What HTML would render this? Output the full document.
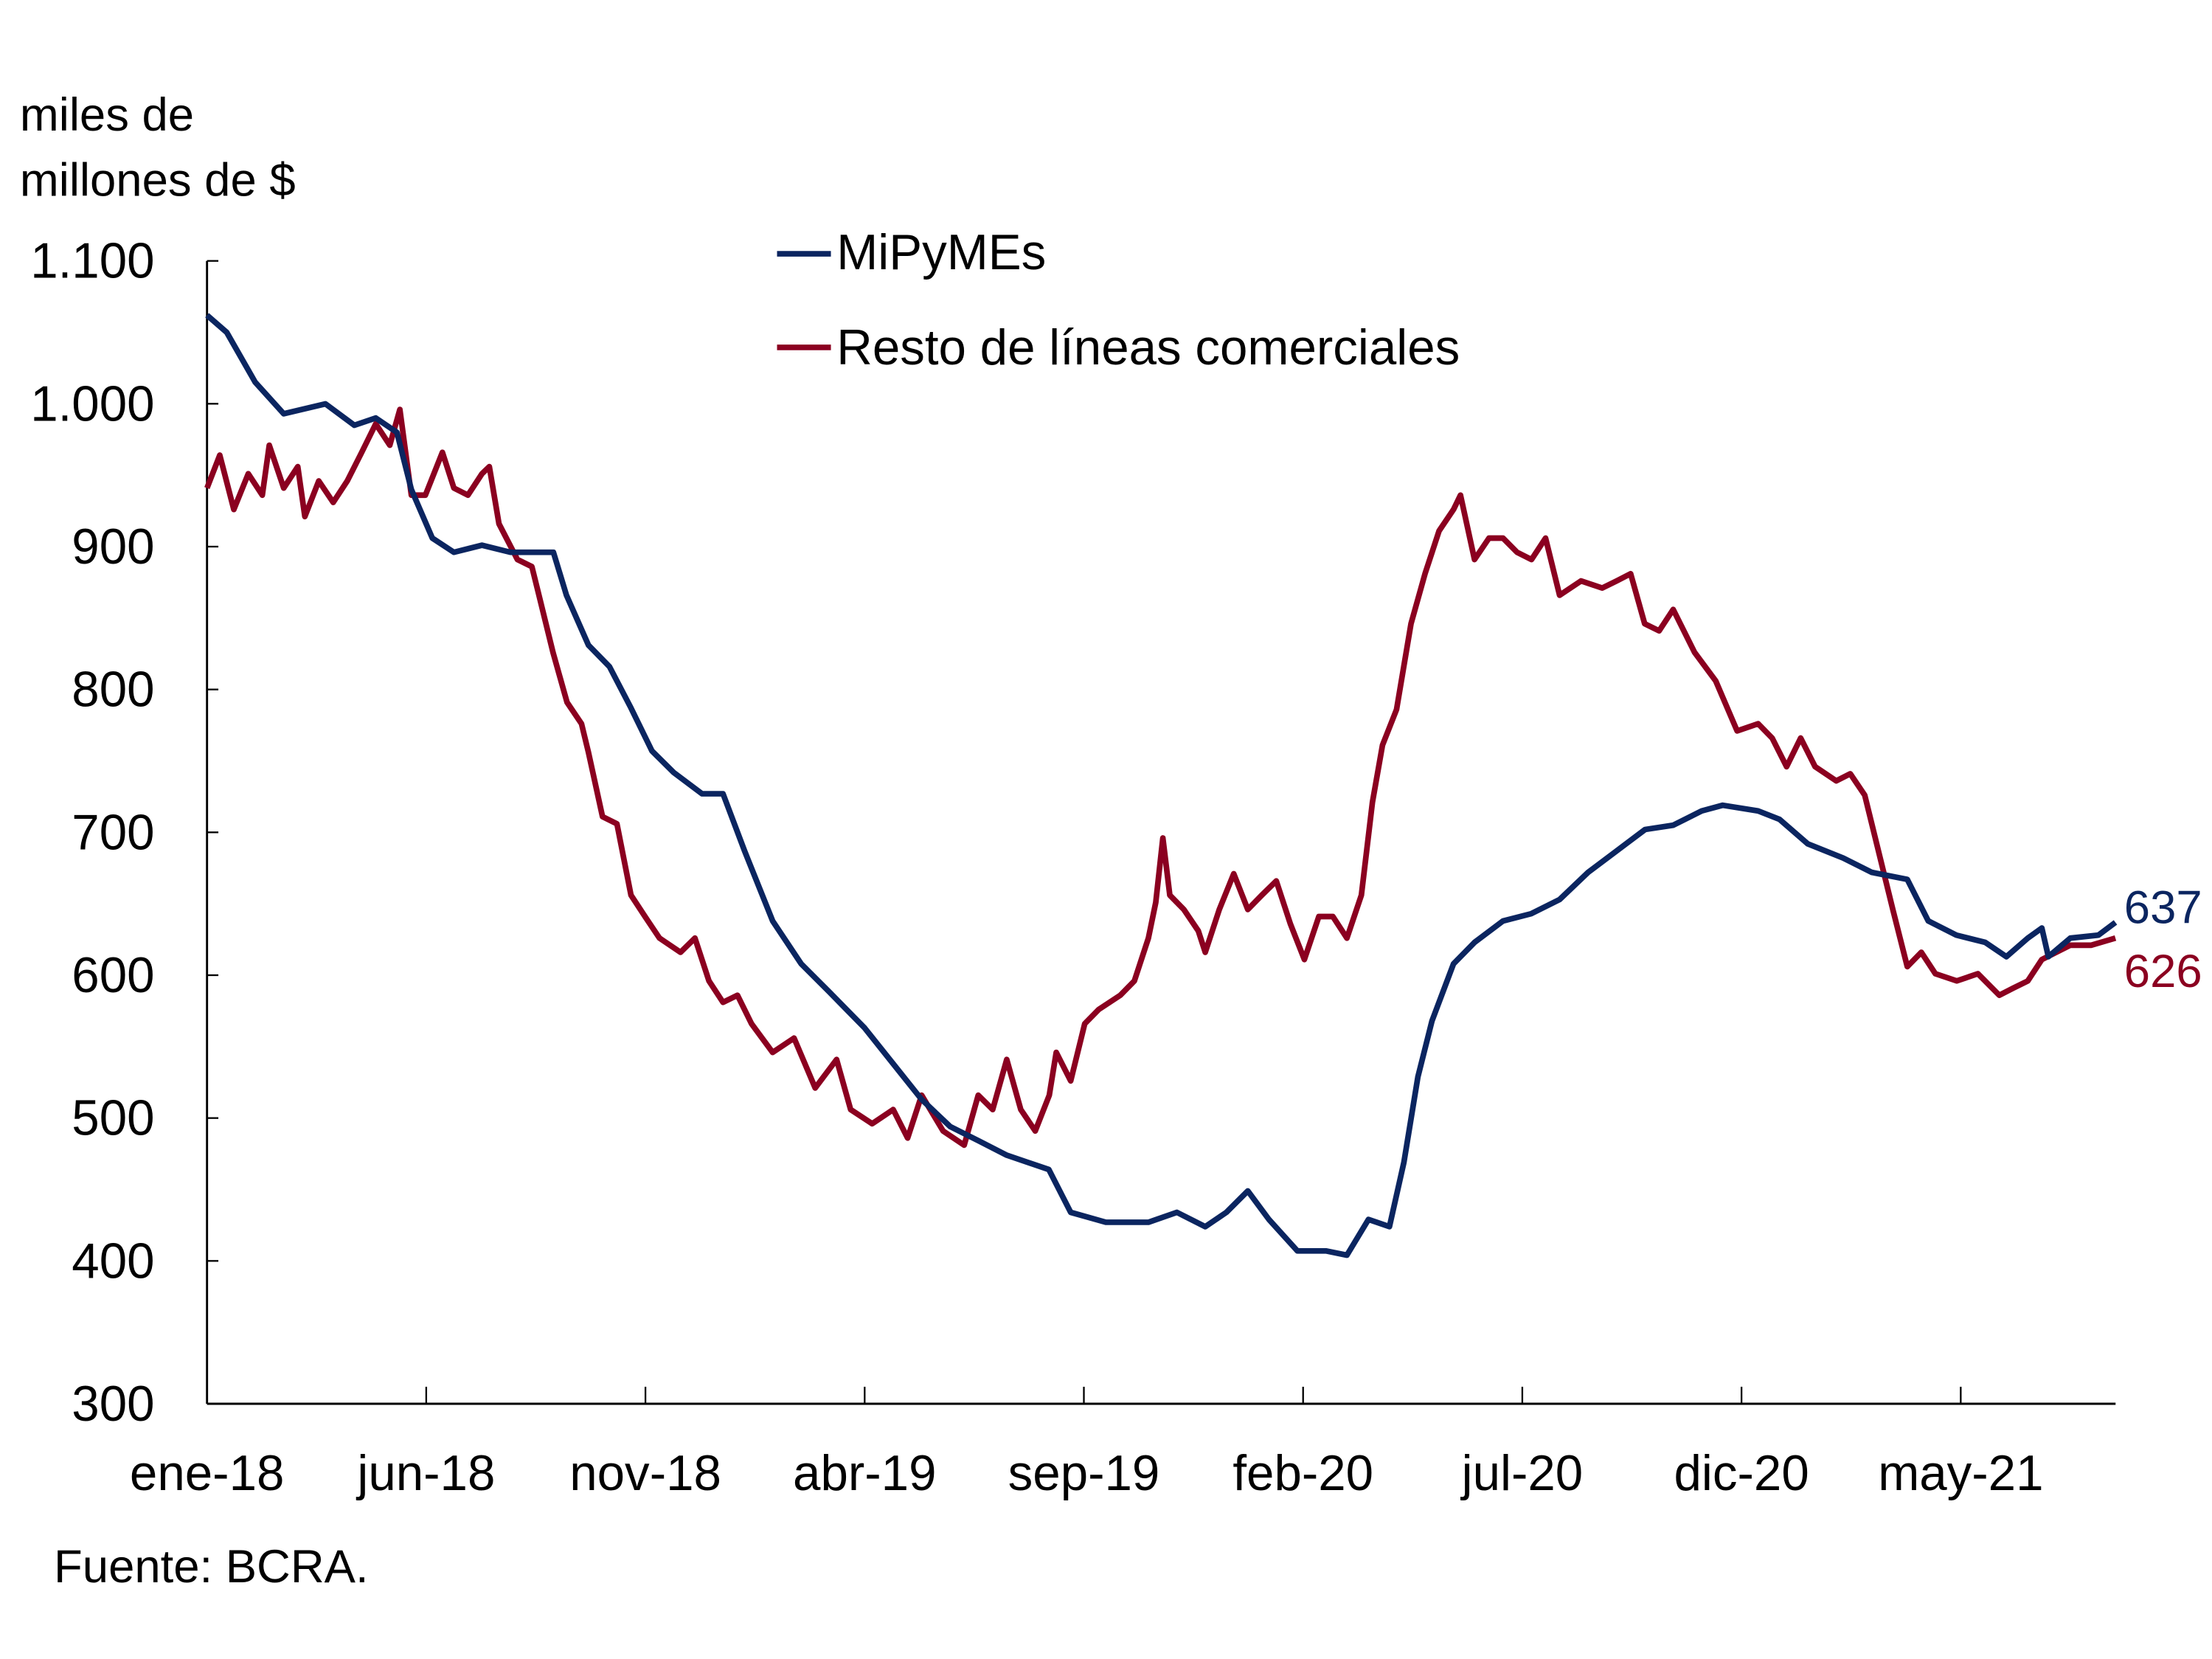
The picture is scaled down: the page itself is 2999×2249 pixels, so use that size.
<!DOCTYPE html>
<html><head><meta charset="utf-8"><style>
html,body{margin:0;padding:0;background:#fff;}
svg{display:block;font-family:"Liberation Sans",Arial,sans-serif;}
</style></head><body>
<svg id="chart" width="2999" height="2249" viewBox="0 0 1560 1170" preserveAspectRatio="none" xmlns="http://www.w3.org/2000/svg">
<text x="14" y="92" font-size="33">miles de</text>
<text x="14" y="138" font-size="33">millones de $</text>
<g id="axes"></g>
<g id="series"></g>
<g>
<line x1="548" y1="179" x2="586" y2="179" stroke="#0b2560" stroke-width="4"/>
<text x="590" y="190" font-size="35">MiPyMEs</text>
<line x1="548" y1="245" x2="586" y2="245" stroke="#8b0020" stroke-width="4"/>
<text x="590" y="257" font-size="35">Resto de líneas comerciales</text>
</g>
<text x="38" y="1116" font-size="33">Fuente: BCRA.</text>
</svg>
<script>
const xTickLabels=["ene-18","jun-18","nov-18","abr-19","sep-19","feb-20","jul-20","dic-20","may-21"];
const xTickMonths=[0,5,10,15,20,25,30,35,40];
const yTicks=[300,400,500,600,700,800,900,1000,1100];
const yTickLabels=["300","400","500","600","700","800","900","1.000","1.100"];
const mipymesMonths=[0,.45,1.1,1.75,2.7,3.36,3.85,4.33,4.66,5.14,5.63,6.27,6.92,7.9,8.2,8.7,9.18,9.67,10.15,10.64,11.29,11.77,12.26,12.9,13.55,14.2,15.0,15.65,16.3,16.95,17.6,18.24,19.2,19.7,20.5,21.47,22.12,22.77,23.25,23.74,24.22,24.87,25.52,26.0,26.49,26.97,27.3,27.62,27.94,28.43,28.91,29.56,30.2,30.85,31.5,32.15,32.8,33.44,34.09,34.57,35.38,35.87,36.51,37.32,37.97,38.78,39.26,39.9,40.56,41.04,41.53,41.85,42.0,42.5,43.14,43.53];
const mipymesValues=[1062,1050,1015,993,1000,985,990,980,940,906,896,901,896,896,866,831,816,787,757,742,727,727,687,638,608,588,563,538,513,494,484,474,464,434,427,427,434,424,434,449,429,407,407,404,429,424,469,529,568,608,623,638,643,653,672,687,702,705,715,719,715,709,692,682,672,667,638,628,623,613,626,633,613,626,628,637];
const restoMonths=[0,.29,.61,.94,1.26,1.42,1.75,2.07,2.23,2.55,2.88,3.2,3.53,3.85,4.17,4.4,4.66,4.98,5.37,5.63,5.95,6.27,6.44,6.66,7.08,7.41,7.57,7.89,8.21,8.54,8.7,9.02,9.35,9.67,9.99,10.32,10.8,11.13,11.45,11.77,12.1,12.42,12.9,13.39,13.87,14.36,14.68,15.17,15.65,15.98,16.3,16.79,17.27,17.59,17.92,18.24,18.56,18.89,19.21,19.37,19.7,20.02,20.34,20.83,21.15,21.47,21.64,21.8,21.96,22.28,22.61,22.77,23.09,23.42,23.74,24.06,24.39,24.71,25.03,25.36,25.68,26.0,26.33,26.58,26.81,27.13,27.46,27.78,28.1,28.43,28.59,28.91,29.24,29.56,29.88,30.21,30.53,30.85,31.34,31.82,32.15,32.47,32.79,33.12,33.44,33.93,34.41,34.9,35.38,35.7,36.03,36.35,36.68,37.16,37.48,37.81,38.13,38.45,38.78,39.1,39.42,39.91,40.39,40.88,41.2,41.53,41.85,42.5,42.98,43.53];
const restoValues=[941,964,926,951,936,971,941,956,921,946,931,946,966,986,971,996,936,936,966,941,936,951,956,916,891,886,866,826,791,776,756,711,706,656,641,626,616,626,596,581,586,566,546,556,521,541,506,496,506,486,516,491,481,516,506,541,506,491,516,546,526,566,576,586,596,626,651,696,656,646,631,616,646,671,646,656,666,636,611,641,641,626,656,721,761,786,846,881,911,926,936,891,906,906,896,891,906,866,876,871,876,881,846,841,856,826,806,771,776,766,746,766,746,736,741,726,686,646,606,616,601,596,601,586,591,596,611,621,621,626];
const mipymesLast="637", restoLast="626";

const X0=146,MW=30.92,Y0=990,PY=1.0075;
const xs=m=>X0+m*MW;
const ys=v=>Y0-(v-300)*PY;
const NS="http://www.w3.org/2000/svg";
function mk(tag,attrs,parent){const e=document.createElementNS(NS,tag);for(const k in attrs)e.setAttribute(k,attrs[k]);parent.appendChild(e);return e;}
const axes=document.getElementById('axes');
let a=mk('line',{x1:X0,y1:ys(1100),x2:X0,y2:Y0,stroke:'#000','stroke-width':1.5},axes);


a=mk('line',{x1:X0,y1:Y0,x2:1492,y2:Y0,stroke:'#000','stroke-width':1.5},axes);


yTicks.forEach((v,i)=>{
  const t=mk('line',{x1:X0,y1:ys(v),x2:X0+8,y2:ys(v),stroke:'#000','stroke-width':1.2},axes);
  
  
  const l=mk('text',{x:109,y:ys(v)+12,'font-size':35,'text-anchor':'end'},axes);
  l.textContent=yTickLabels[i];
  
  
});
xTickMonths.forEach((m,i)=>{
  const t=mk('line',{x1:xs(m),y1:Y0,x2:xs(m),y2:Y0-12,stroke:'#000','stroke-width':1.2},axes);
  
  
  const l=mk('text',{x:xs(m),y:1051,'font-size':35,'text-anchor':'middle'},axes);
  l.textContent=xTickLabels[i];
  
  
});
const ser=document.getElementById('series');
function path(ms,vs){return ms.map((m,i)=>(i?'L':'M')+xs(m).toFixed(1)+','+ys(vs[i]).toFixed(1)).join('');}
let p=mk('path',{d:path(restoMonths,restoValues),fill:'none',stroke:'#8b0020','stroke-width':4,'stroke-linejoin':'round'},ser);


p=mk('path',{d:path(mipymesMonths,mipymesValues),fill:'none',stroke:'#0b2560','stroke-width':4,'stroke-linejoin':'round'},ser);


let t=mk('text',{x:1498,y:651,'font-size':33,fill:'#0b2560'},ser);
t.textContent=mipymesLast;


t=mk('text',{x:1498,y:696,'font-size':33,fill:'#8b0020'},ser);
t.textContent=restoLast;


</script>
</body></html>
